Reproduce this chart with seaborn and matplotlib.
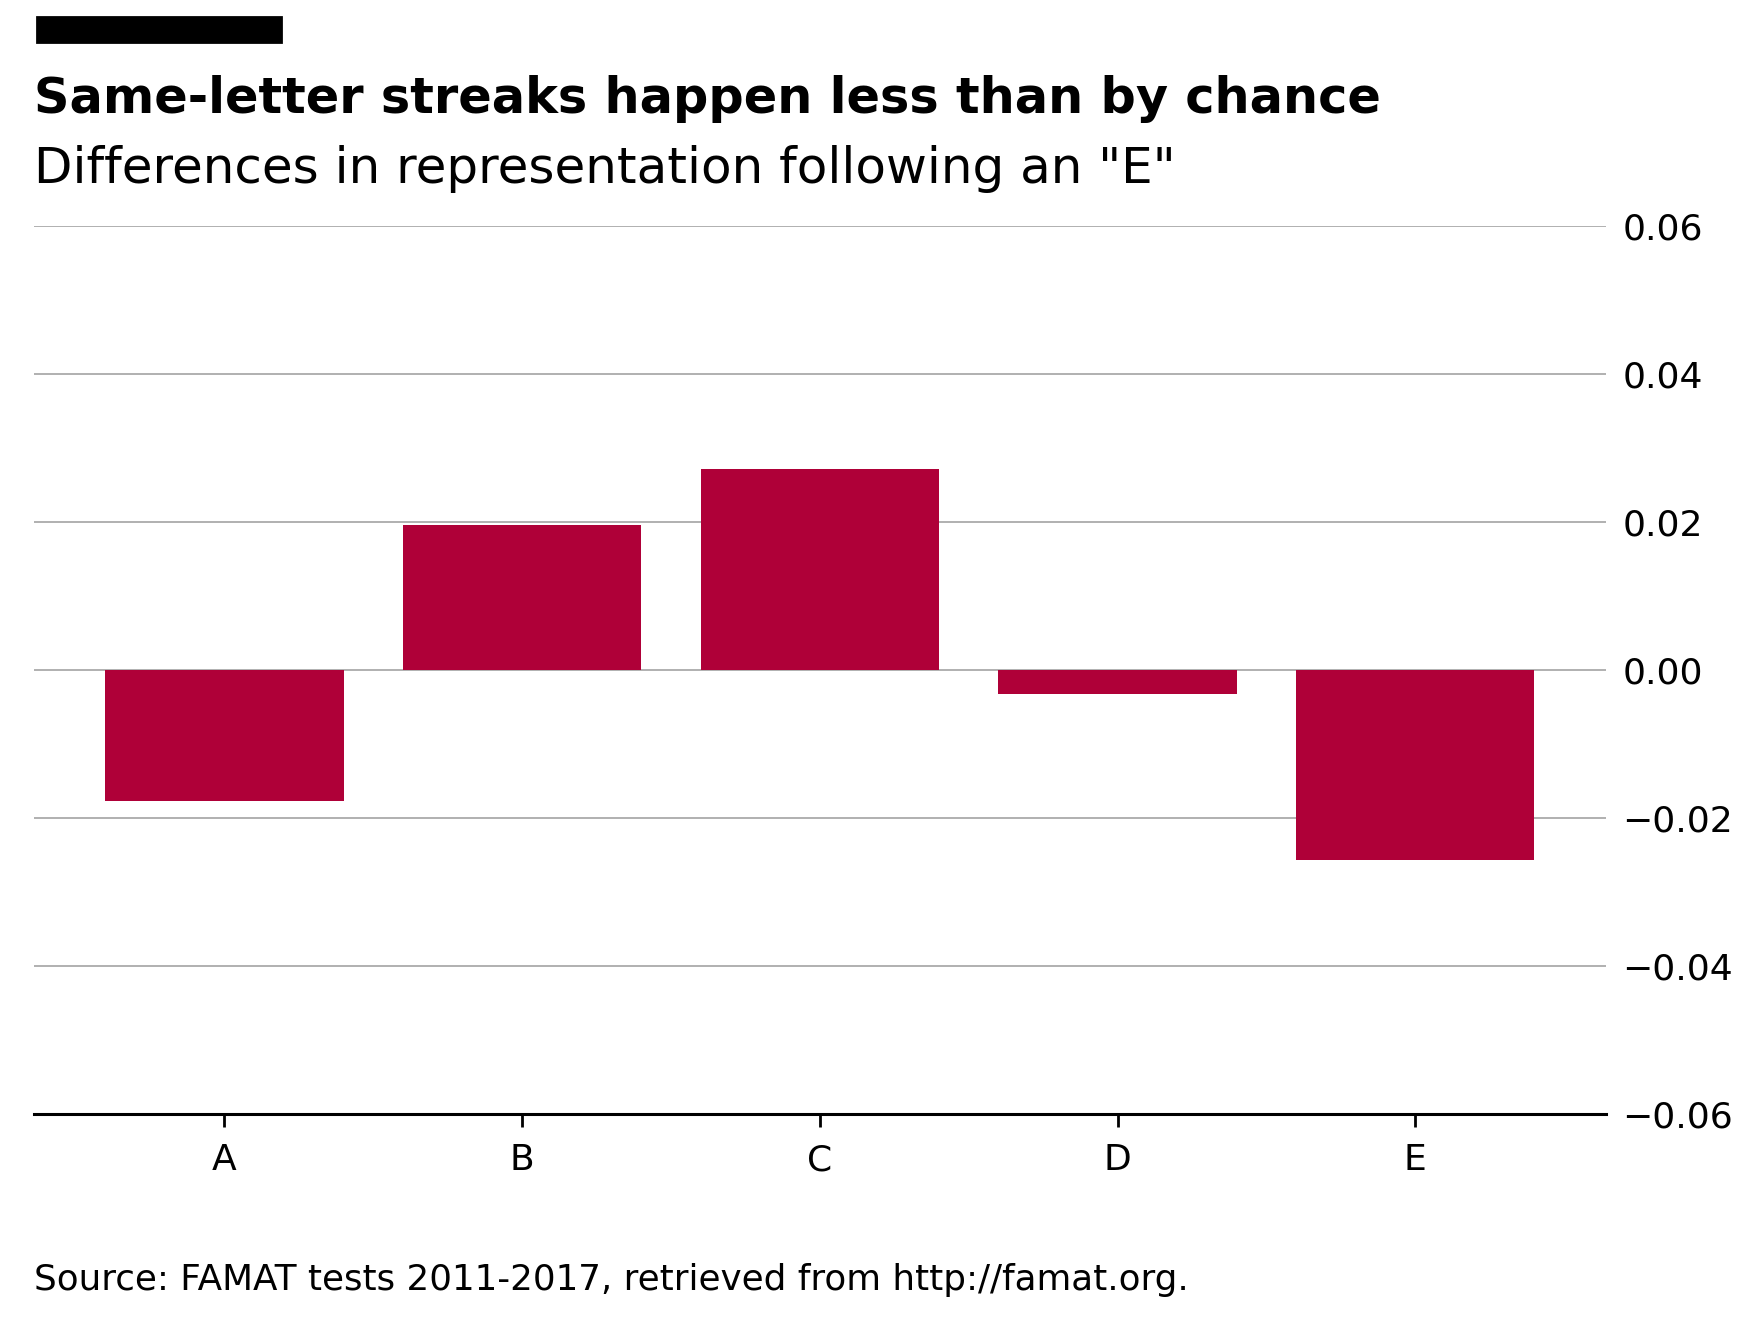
import matplotlib
matplotlib.use("Agg")
import matplotlib.pyplot as plt
import seaborn as sns
import pandas as pd

# ── Dados ─────────────────────────────────────────────────────────────────────
letters = ["A", "B", "C", "D", "E"]
diffs = [-0.0177, 0.0196, 0.0272, -0.0032, -0.0257]
y_ticks = [-0.06, -0.04, -0.02, 0.00, 0.02, 0.04, 0.06]

title = "Same-letter streaks happen less than by chance"
subtitle = 'Differences in representation following an "E"'
source = "Source: FAMAT tests 2011-2017, retrieved from http://famat.org."

BAR_COLOR = "#af0038"

sns.set_theme(style="white")
plt.rcParams["font.family"] = ["DejaVu Sans"]
plt.rcParams["text.color"] = "black"

df = pd.DataFrame({"letter": letters, "diff": diffs})

fig = plt.figure(figsize=(8.795, 6.625), dpi=200)
ax = fig.add_axes([0.0193, 0.159, 0.8936, 0.6705])

sns.barplot(data=df, x="letter", y="diff", color=BAR_COLOR, saturation=1,
            width=0.8, linewidth=0, edgecolor="none", ax=ax, zorder=2)

ax.set_ylim(-0.06, 0.06)
ax.set_xlim(-0.64, 4.64)
ax.set_yticks(y_ticks)
ax.set_yticklabels([f"{t:.2f}".replace("-", "\u2212") for t in y_ticks])
ax.yaxis.tick_right()
ax.set_xlabel("")
ax.set_ylabel("")

ax.grid(axis="y", color="#b0b0b0", linewidth=0.7, zorder=0)
ax.set_axisbelow(True)
for s in ["top", "left", "right"]:
    ax.spines[s].set_visible(False)
ax.spines["bottom"].set_color("black")
ax.spines["bottom"].set_linewidth(1.1)

ax.tick_params(axis="y", length=0, pad=6, labelsize=13, colors="black")
ax.tick_params(axis="x", length=4.5, width=1, direction="out", bottom=True,
               pad=6, labelsize=13, colors="black")

# barra preta decorativa
fig.patches.append(plt.Rectangle((0.021, 0.968), 0.139, 0.019,
                                 transform=fig.transFigure, color="black"))

fig.text(0.0193, 0.915, title, fontsize=17.8, fontweight="bold", ha="left", va="baseline")
fig.text(0.0193, 0.862, subtitle, fontsize=18, ha="left", va="baseline")
fig.text(0.0193, 0.0266, source, fontsize=12.9, ha="left", va="baseline")

fig.savefig("out.png", dpi=200, facecolor="white")
